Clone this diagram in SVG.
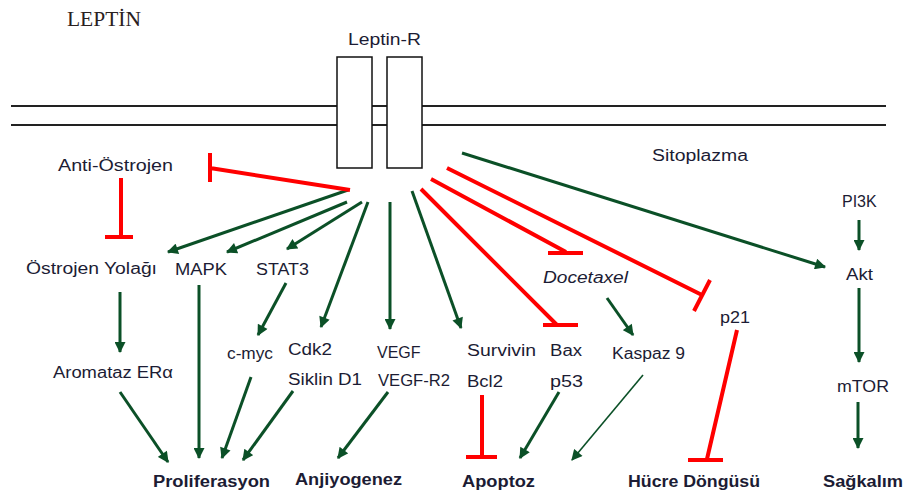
<svg xmlns="http://www.w3.org/2000/svg" width="904" height="498" viewBox="0 0 904 498">
<defs>
<marker id="ah" viewBox="0 0 10 10" refX="9" refY="5" markerWidth="12" markerHeight="11" markerUnits="userSpaceOnUse" orient="auto">
<path d="M0,0 L10,5 L0,10 z" fill="#0b5027"/>
</marker>
<style>
.mem{stroke:#222;stroke-width:2;fill:none}
.box{stroke:#111;stroke-width:1.5;fill:#fff}
.act{stroke:#0b5027;stroke-width:3;fill:none;marker-end:url(#ah)}
.thin{stroke-width:1.6}
.inh{stroke:#ff0000;stroke-width:4;fill:none}
.t{font-family:"Liberation Sans",Arial,sans-serif;font-size:16px;fill:#1c1c34}
.b{font-weight:bold;font-size:16px}
.s{font-family:"Liberation Serif","Times New Roman",serif;font-size:21px;fill:#2a2020}
</style>
</defs>
<rect width="904" height="498" fill="#fff"/>

<g id="membrane">
<line class="mem" x1="11" y1="106" x2="886" y2="106"/>
<line class="mem" x1="11" y1="125" x2="886" y2="125"/>
</g>
<g id="leptin-r">
<rect class="box" x="337" y="57" width="35" height="111"/>
<rect class="box" x="387" y="57" width="35" height="111"/>
<text class="t" x="348" y="45" font-size="17" textLength="73" lengthAdjust="spacingAndGlyphs">Leptin-R</text>
</g>

<g id="connectors">
<line class="act" x1="348" y1="190" x2="168" y2="252"/>
<line class="act" x1="347" y1="202" x2="227" y2="252"/>
<line class="act" x1="362" y1="202" x2="287" y2="249"/>
<line class="act" x1="368" y1="202" x2="321" y2="327"/>
<line class="act" x1="390" y1="202" x2="390" y2="329"/>
<line class="act" x1="412" y1="191" x2="461" y2="328"/>
<line class="act" x1="462" y1="153" x2="825" y2="267"/>
<line class="act" x1="286" y1="283" x2="258" y2="335"/>
<line class="act" x1="199" y1="285" x2="199" y2="458"/>
<line class="act" x1="120" y1="292" x2="120" y2="352"/>
<line class="act" x1="120" y1="392" x2="168" y2="462"/>
<line class="act" x1="251" y1="377" x2="222" y2="458"/>
<line class="act" x1="293" y1="391" x2="243" y2="460"/>
<line class="act" x1="388" y1="392" x2="338" y2="458"/>
<line class="act" x1="559" y1="392" x2="520" y2="458"/>
<line class="act thin" x1="643" y1="375" x2="572" y2="460"/>
<line class="act" x1="607" y1="298" x2="633" y2="335"/>
<line class="act" x1="859" y1="220" x2="859" y2="250"/>
<line class="act" x1="859" y1="288" x2="859" y2="362"/>
<line class="act" x1="858" y1="402" x2="858" y2="448"/>

<path class="inh" d="M350,190 L210,168 M210,153 L210,182"/>
<path class="inh" d="M121,178 L121,237 M105,237 L133,237"/>
<path class="inh" d="M421,189 L557,325 M543,325 L578,325"/>
<path class="inh" d="M431,179 L566,252 M548,253 L583,253"/>
<path class="inh" d="M447,168 L702,295 M710,280 L694,311"/>
<path class="inh" stroke-width="3" d="M482,395 L482,457 M466,457 L497,457"/>
<path class="inh" d="M737,330 L707,459 M688,460 L723,460"/>
</g>

<g id="leptin"><text class="s" x="67" y="26" textLength="74" lengthAdjust="spacingAndGlyphs">LEPTİN</text></g>
<g id="sitoplazma"><text class="t" x="652" y="161" font-size="17" textLength="96" lengthAdjust="spacingAndGlyphs">Sitoplazma</text></g>
<g id="anti-ostrojen"><text class="t" x="58" y="171" font-size="17" textLength="115" lengthAdjust="spacingAndGlyphs">Anti-Östrojen</text></g>
<g id="ostrojen-yolagi"><text class="t" x="26" y="274" textLength="131" lengthAdjust="spacingAndGlyphs">Östrojen Yolağı</text></g>
<g id="mapk"><text class="t" x="175" y="275" textLength="52" lengthAdjust="spacingAndGlyphs">MAPK</text></g>
<g id="stat3"><text class="t" x="256" y="275" textLength="53" lengthAdjust="spacingAndGlyphs">STAT3</text></g>
<g id="aromataz"><text class="t" x="53" y="378" textLength="120" lengthAdjust="spacingAndGlyphs">Aromataz ERα</text></g>
<g id="c-myc"><text class="t" x="227" y="359" font-size="14" textLength="46" lengthAdjust="spacingAndGlyphs">c-myc</text></g>
<g id="cdk2"><text class="t" x="288" y="355" textLength="44" lengthAdjust="spacingAndGlyphs">Cdk2</text></g>
<g id="siklin-d1"><text class="t" x="288" y="385" textLength="74" lengthAdjust="spacingAndGlyphs">Siklin D1</text></g>
<g id="vegf"><text class="t" x="377" y="358" font-size="15">VEGF</text></g>
<g id="vegf-r2"><text class="t" x="378" y="386" textLength="72" lengthAdjust="spacingAndGlyphs">VEGF-R2</text></g>
<g id="survivin"><text class="t" x="467" y="356" textLength="69" lengthAdjust="spacingAndGlyphs">Survivin</text></g>
<g id="bcl2"><text class="t" x="467" y="387" textLength="36" lengthAdjust="spacingAndGlyphs">Bcl2</text></g>
<g id="bax"><text class="t" x="550" y="356" textLength="32" lengthAdjust="spacingAndGlyphs">Bax</text></g>
<g id="p53"><text class="t" x="550" y="387" textLength="33" lengthAdjust="spacingAndGlyphs">p53</text></g>
<g id="docetaxel"><text class="t" x="543" y="283" font-style="italic" textLength="85" lengthAdjust="spacingAndGlyphs">Docetaxel</text></g>
<g id="kaspaz9"><text class="t" x="612" y="359" textLength="73" lengthAdjust="spacingAndGlyphs">Kaspaz 9</text></g>
<g id="p21"><text class="t" x="720" y="323" textLength="30" lengthAdjust="spacingAndGlyphs">p21</text></g>
<g id="pi3k"><text class="t" x="842" y="207" font-size="15">PI3K</text></g>
<g id="akt"><text class="t" x="846" y="280" textLength="27" lengthAdjust="spacingAndGlyphs">Akt</text></g>
<g id="mtor"><text class="t" x="837" y="392" textLength="52" lengthAdjust="spacingAndGlyphs">mTOR</text></g>
<g id="proliferasyon"><text class="t b" x="153" y="487" textLength="117" lengthAdjust="spacingAndGlyphs">Proliferasyon</text></g>
<g id="anjiyogenez"><text class="t b" x="295" y="485" textLength="107" lengthAdjust="spacingAndGlyphs">Anjiyogenez</text></g>
<g id="apoptoz"><text class="t b" x="462" y="487" textLength="73" lengthAdjust="spacingAndGlyphs">Apoptoz</text></g>
<g id="hucre-dongusu"><text class="t b" x="628" y="487" textLength="132" lengthAdjust="spacingAndGlyphs">Hücre Döngüsü</text></g>
<g id="sagkalim"><text class="t b" x="823" y="487" textLength="80" lengthAdjust="spacingAndGlyphs">Sağkalım</text></g>
</svg>
